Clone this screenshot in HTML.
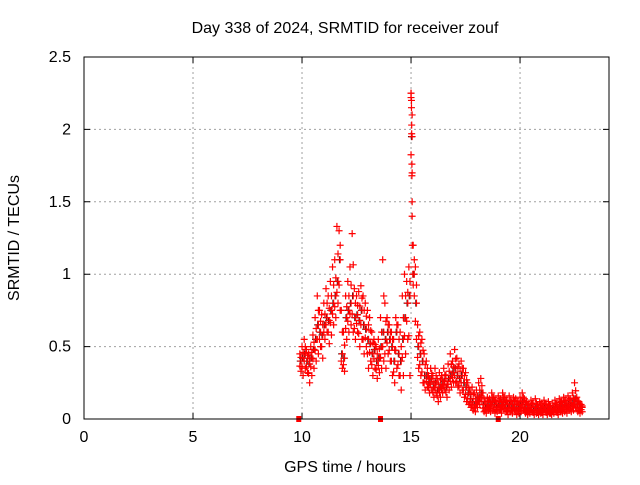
<!DOCTYPE html>
<html><head><meta charset="utf-8"><style>
html,body{margin:0;padding:0;background:#fff;}
svg text{font-family:"Liberation Sans",sans-serif;font-size:16px;fill:#000;}
</style></head><body>
<svg id="chart" width="640" height="480" xmlns="http://www.w3.org/2000/svg">
<rect width="640" height="480" fill="#fff"/>
<text x="345" y="33" text-anchor="middle">Day 338 of 2024, SRMTID for receiver zouf</text>
<text x="345" y="472" text-anchor="middle">GPS time / hours</text>
<text transform="translate(19,238) rotate(-90)" text-anchor="middle">SRMTID / TECUs</text>
<g id="grid"></g>
<g id="ticks"></g>
<g id="marks"></g>
<rect x="84" y="57" width="525" height="362" fill="none" stroke="#000" stroke-width="1"/>
</svg>
<script>
const xTicks=[0,5,10,15,20];
const yTicks=[0,0.5,1,1.5,2,2.5];
const yTickLabels=["0","0.5","1","1.5","2","2.5"];
const t0=9.9, dt=0.1;
const seriesA=[.45,.50,.55,.48,.45,.50,.58,.70,.85,.75,.72,.80,.90,.85,.95,1.05,1.10,1.33,1.30,.75,.60,.85,.95,1.05,1.28,.90,.85,.88,.92,.85,.80,.75,.70,.60,.55,.50,.55,.70,1.10,.80,.70,.65,.60,.55,.70,.65,.60,.85,1.00,.95,1.05,2.25,1.20,1.05,.65,.60,.55,.45,.40,.30,.35,.30,.35,.28,.32,.30,.35,.30,.38,.45,.40,.48,.42,.38,.40,.35,.32,.25,.20,.22,.18,.20,.25,.28,.18,.12,.15,.14,.18,.15,.12,.16,.14,.18,.15,.13,.16,.12,.15,.14,.12,.15,.18,.14,.12,.10,.13,.11,.14,.10,.12,.11,.13,.10,.12,.09,.11,.13,.10,.14,.12,.15,.13,.16,.14,.18,.25,.15,.12,.10];
const seriesB=[.33,.30,.35,.32,.25,.30,.35,.40,.45,.50,.42,.55,.60,.52,.58,.65,.70,.80,.75,.35,.33,.55,.60,.65,.60,.55,.60,.50,.55,.45,.50,.35,.40,.30,.35,.28,.32,.35,.40,.35,.45,.40,.30,.25,.35,.30,.20,.30,.45,.55,.30,1.70,.85,.55,.35,.30,.25,.20,.22,.18,.20,.15,.18,.12,.15,.18,.20,.15,.20,.22,.25,.25,.22,.18,.20,.15,.12,.10,.08,.06,.05,.08,.10,.12,.05,.04,.06,.05,.06,.04,.05,.06,.04,.07,.05,.03,.05,.04,.06,.03,.04,.05,.06,.04,.03,.04,.05,.03,.04,.03,.04,.03,.05,.03,.04,.03,.04,.05,.03,.05,.04,.05,.04,.06,.05,.06,.08,.05,.04,.05];
const seriesC=[.40,.42,.45,.40,.38,.42,.48,.55,.65,.60,.58,.65,.70,.68,.75,.80,.85,.95,1.10,.45,.42,.70,.75,.80,.85,.70,.72,.68,.75,.65,.62,.55,.52,.45,.48,.40,.42,.50,.60,.55,.60,.55,.50,.40,.60,.45,.40,.55,.70,.80,.85,1.95,1.00,.80,.50,.45,.40,.30,.30,.25,.28,.22,.25,.20,.22,.24,.26,.22,.28,.30,.32,.35,.30,.28,.30,.25,.22,.18,.14,.12,.10,.12,.15,.18,.10,.08,.10,.09,.12,.10,.08,.10,.09,.12,.10,.08,.10,.08,.10,.08,.07,.10,.12,.08,.07,.06,.08,.06,.08,.06,.07,.06,.08,.06,.07,.05,.07,.08,.06,.09,.08,.10,.09,.10,.09,.11,.14,.10,.08,.08];
const spikeTimes=[15.0,15.0,15.02,15.02,15.03,15.03,15.04,15.04,15.05,15.05,15.06,15.08];
const spikeVals=[2.25,2.22,2.20,2.15,2.03,1.97,1.76,1.68,1.50,1.40,1.20,1.00];
const gapMarks=[9.85,13.6,19.0];
const X=v=>84+v*(525/24.08), Y=v=>419-v*(362/2.5);
const NS="http://www.w3.org/2000/svg";
function mk(tag,attrs,parent){const e=document.createElementNS(NS,tag);for(const k in attrs)e.setAttribute(k,attrs[k]);parent.appendChild(e);return e;}
const grid=document.getElementById('grid'), ticks=document.getElementById('ticks'), marks=document.getElementById('marks');
xTicks.forEach(v=>{
  if(v>0){const g=mk('line',{x1:X(v),x2:X(v),y1:57,y2:419,stroke:'#a0a0a0','stroke-dasharray':'2,3'},grid);
  
  }
  const t=mk('path',{d:`M${X(v)},419v-6M${X(v)},57v6`,stroke:'#000'},ticks);
  
  
  const l=mk('text',{x:X(v),y:442,'text-anchor':'middle'},ticks);l.textContent=v;
  
  
});
yTicks.forEach((v,i)=>{
  if(v>0&&v<2.5){const g=mk('line',{x1:84,x2:609,y1:Y(v),y2:Y(v),stroke:'#a0a0a0','stroke-dasharray':'2,3'},grid);
  
  }
  const t=mk('path',{d:`M84,${Y(v)}h6M609,${Y(v)}h-6`,stroke:'#000'},ticks);
  
  
  const l=mk('text',{x:71,y:Y(v)+5,'text-anchor':'end'},ticks);l.textContent=yTickLabels[i];
  
  
});
function plus(x,y,col){
  const p=mk('path',{d:`M${x-3.5},${y}h7M${x},${y-3.5}v7`,stroke:col,'stroke-width':1.2},marks);
  
  
}
seriesC.forEach((v,i)=>plus(X(t0+i*dt+0.02),Y(v),'#222'));
seriesA.forEach((v,i)=>plus(X(t0+i*dt),Y(v),'#f00'));
seriesB.forEach((v,i)=>plus(X(t0+i*dt+0.05),Y(v),'#f00'));
seriesC.forEach((v,i)=>plus(X(t0+i*dt+0.05),Y(v),'#f00'));
seriesA.forEach((v,i)=>plus(X(t0+i*dt+0.05),Y((v+seriesC[i])/2),'#f00'));
seriesB.forEach((v,i)=>plus(X(t0+i*dt),Y((v+seriesC[i])/2),'#f00'));
spikeVals.forEach((v,i)=>plus(X(spikeTimes[i]),Y(v),'#f00'));
gapMarks.forEach(v=>{
  const r=mk('rect',{x:X(v)-2.5,y:416,width:5,height:6,fill:'#f00'},marks);
  
  
});
</script>
</body></html>
